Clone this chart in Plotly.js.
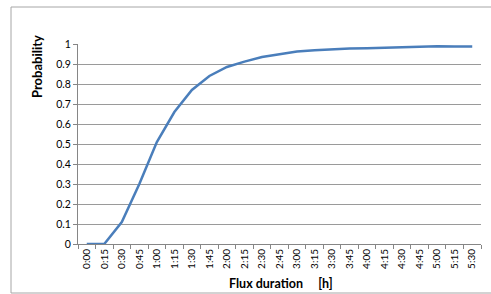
<!DOCTYPE html>
<html>
<head>
<meta charset="utf-8">
<script src="https://cdn.plot.ly/plotly-3.0.1.min.js"></script>
<style>
  html, body { margin: 0; padding: 0; background: #fff; }
  #chart { width: 491px; height: 294px; }
</style>
</head>
<body>
<div id="chart"></div>
<script>
const categories = ["0:00","0:15","0:30","0:45","1:00","1:15","1:30","1:45","2:00","2:15","2:30","2:45",
                    "3:00","3:15","3:30","3:45","4:00","4:15","4:30","4:45","5:00","5:15","5:30"];
const probability = [0, 0, 0.11, 0.30, 0.51, 0.66, 0.77, 0.84, 0.885, 0.912, 0.935, 0.95,
                     0.962, 0.969, 0.974, 0.977, 0.979, 0.981, 0.984, 0.986, 0.989, 0.987, 0.987];
const yTitle = "Probability";
const xTitle = "Flux duration&nbsp;&nbsp;&nbsp;&nbsp;&nbsp;[h]";

const font = "Lato, 'Open Sans', sans-serif";
const grey = "#868686";

const trace = {
  x: categories,
  y: probability,
  type: "scatter",
  mode: "lines",
  line: { color: "#4A7EBB", width: 2.5 },
  hoverinfo: "skip"
};

const layout = {
  width: 491,
  height: 294,
  margin: { l: 78, r: 10, t: 44, b: 50, pad: 0 },
  paper_bgcolor: "#fff",
  plot_bgcolor: "#fff",
  showlegend: false,
  font: { family: font, size: 10, color: "#000" },
  xaxis: {
    type: "category",
    range: [-0.5, categories.length - 0.5],
    tickson: "boundaries",
    ticks: "outside",
    ticklen: 4,
    tickcolor: grey,
    tickangle: -90,
    tickfont: { family: font, size: 10, color: "#000" },
    showline: true,
    linecolor: grey,
    linewidth: 1,
    showgrid: false,
    zeroline: false,
    fixedrange: true
  },
  yaxis: {
    range: [0, 1],
    dtick: 0.1,
    tick0: 0,
    ticks: "outside",
    ticklen: 4,
    tickcolor: grey,
    tickfont: { family: font, size: 10.5, color: "#000" },
    showline: true,
    linecolor: grey,
    linewidth: 1,
    showgrid: true,
    gridcolor: "#9a9a9a",
    gridwidth: 1,
    zeroline: false,
    fixedrange: true
  },
  shapes: [{
    type: "rect", xref: "paper", yref: "paper",
    x0: (11 - 78) / 403, x1: (493 - 78) / 403,
    y0: -(293 - 244) / 200, y1: (244 - 7) / 200,
    line: { color: "#a6a6a6", width: 1 },
    fillcolor: "rgba(0,0,0,0)",
    layer: "below"
  }],
  annotations: [
    {
      text: "<b>" + yTitle + "</b>",
      xref: "paper", yref: "paper",
      x: (37 - 78) / 403, y: (244 - 67) / 200,
      xanchor: "center", yanchor: "middle",
      textangle: -90, showarrow: false,
      font: { family: font, size: 13, color: "#000" }
    },
    {
      text: "<b>" + xTitle + "</b>",
      xref: "paper", yref: "paper",
      x: (281 - 78) / 403, y: -(283 - 244) / 200,
      xanchor: "center", yanchor: "middle",
      showarrow: false,
      font: { family: font, size: 12.5, color: "#000" }
    }
  ]
};

Plotly.newPlot("chart", [trace], layout, { displayModeBar: false, staticPlot: true });
</script>
</body>
</html>
